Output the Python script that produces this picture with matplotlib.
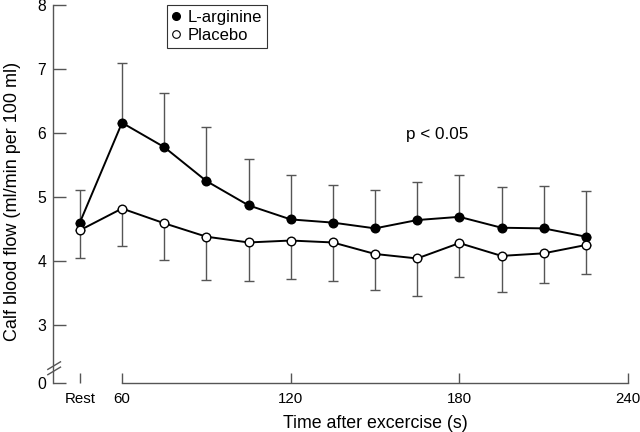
import matplotlib
matplotlib.use("Agg")
import matplotlib.pyplot as plt
from matplotlib.lines import Line2D
import numpy as np

plt.rcParams['font.family'] = ['Liberation Sans', 'DejaVu Sans']

# ---- data ----
times = [45, 60, 75, 90, 105, 120, 135, 150, 165, 180, 195, 210, 225]   # 45 = "Rest"
larg_mean = [4.60, 6.16, 5.78, 5.25, 4.87, 4.65, 4.60, 4.51, 4.64, 4.69, 4.52, 4.51, 4.38]
larg_sd   = [0.51, 0.94, 0.85, 0.85, 0.72, 0.70, 0.59, 0.60, 0.59, 0.65, 0.64, 0.66, 0.72]
plac_mean = [4.48, 4.82, 4.59, 4.38, 4.29, 4.32, 4.29, 4.11, 4.04, 4.28, 4.08, 4.12, 4.25]
plac_sd   = [0.43, 0.59, 0.57, 0.68, 0.61, 0.60, 0.60, 0.56, 0.59, 0.53, 0.56, 0.47, 0.46]
x_ticks = [45, 60, 120, 180, 240]
x_ticklabels = ["Rest", "60", "120", "180", "240"]
y_ticks = [3, 4, 5, 6, 7, 8]
y_zero_pos = 2.094            # position where the broken axis shows "0"

fig = plt.figure(figsize=(6.4, 4.32), dpi=100)
ax = fig.add_axes([53/640, 1-383/432, (628-53)/640, (383-5)/432])

axcol = '#555555'
zeros = np.zeros(len(times))

ax.errorbar(times, larg_mean, yerr=[zeros, larg_sd], fmt='none', ecolor=axcol,
            elinewidth=1.0, capsize=3.6, capthick=1.0, zorder=2)
ax.errorbar(times, plac_mean, yerr=[plac_sd, zeros], fmt='none', ecolor=axcol,
            elinewidth=1.0, capsize=3.6, capthick=1.0, zorder=2)
ax.plot(times, larg_mean, color='black', lw=1.4, marker='o', ms=6.2,
        mfc='black', mec='black', zorder=3)
ax.plot(times, plac_mean, color='black', lw=1.4, marker='o', ms=6.2,
        mfc='white', mec='black', mew=1.0, zorder=4)

ax.set_xlim(35.45, 240)
ax.set_ylim(y_zero_pos, 8)

for s in ['top', 'right']:
    ax.spines[s].set_visible(False)
for s in ['left', 'bottom']:
    ax.spines[s].set_color(axcol)
    ax.spines[s].set_linewidth(1.0)
ax.spines['bottom'].set_bounds(60, 240)

ax.set_xticks(x_ticks)
ax.set_xticklabels(x_ticklabels)
ax.set_yticks([y_zero_pos] + y_ticks)
ax.set_yticklabels(["0"] + [str(v) for v in y_ticks])
ax.tick_params(axis='x', direction='in', length=7.5, width=1.0, color=axcol,
               pad=6.5, labelsize=10.8)
ax.tick_params(axis='y', direction='in', length=9.4, width=1.0, color=axcol,
               pad=5, labelsize=11.3)

# axis break marks
for dy in (0.0, 0.014):
    ax.plot([-0.009, 0.013], [0.022 + dy, 0.042 + dy], transform=ax.transAxes,
            color=axcol, lw=1.0, clip_on=False)

ax.set_ylabel("Calf blood flow (ml/min per 100 ml)", fontsize=13)
ax.yaxis.set_label_coords(-0.071, 0.48)
ax.yaxis.label.set_va('center')
ax.set_xlabel("Time after excercise (s)", fontsize=12.8)
ax.xaxis.set_label_coords(0.56, -0.106)
ax.xaxis.label.set_va('center')

ax.text(172, 5.98, "p < 0.05", fontsize=12.3, ha='center', va='center')

handles = [Line2D([], [], ls='none', marker='o', ms=5.5, mfc='black', mec='black'),
           Line2D([], [], ls='none', marker='o', ms=5.5, mfc='white', mec='black', mew=0.8)]
leg = ax.legend(handles, ["L-arginine", "Placebo"], loc='upper left',
                bbox_to_anchor=(0.198, 1.0), borderaxespad=0, fancybox=False,
                edgecolor='#333333', fontsize=12, handlelength=0.5, handletextpad=0.45,
                borderpad=0.3, labelspacing=0.2, framealpha=1)
leg.get_frame().set_linewidth(0.8)

fig.savefig("out.png", dpi=100)
